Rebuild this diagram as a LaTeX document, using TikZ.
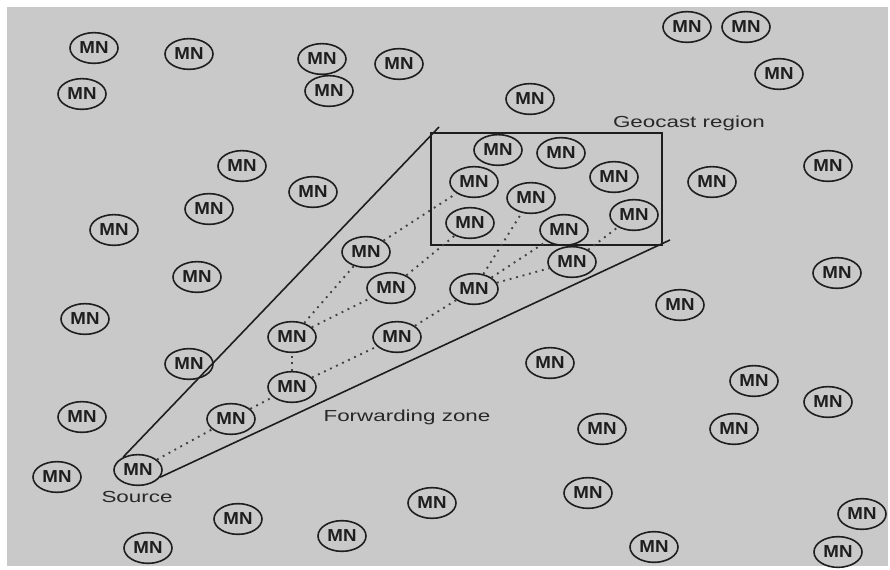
\documentclass[tikz,border=0pt]{standalone}
\usepackage{fontspec}
\setmainfont{Liberation Sans}
\usetikzlibrary{shapes.geometric}
\definecolor{bg}{RGB}{201,201,201}
\definecolor{ink}{RGB}{30,30,30}
\definecolor{lbl}{RGB}{40,40,40}
\newcommand\MNtxt{\scalebox{1.08}[1]{\bfseries MN}}
\newcommand\LBtxt[1]{\scalebox{1.4}[1]{#1}}
\begin{document}
\begin{tikzpicture}[x=0.75pt,y=-0.75pt,
  mn/.style={ellipse, draw=ink, line width=1.2pt, minimum width=36pt, minimum height=23pt, inner sep=0pt, font=\fontsize{13}{13}\selectfont, text=ink},
  lab/.style={font=\fontsize{12}{12}\selectfont, text=lbl, inner sep=0pt},
  hop/.style={draw=ink!85, line width=1.4pt, dash pattern=on 1.4pt off 3.6pt},
  zone/.style={draw=ink, line width=1.2pt}]
\useasboundingbox (0,0) rectangle (890,570);
\fill[white] (0,0) rectangle (890,570);
\fill[bg] (7,7) rectangle (888,566);
% geocast region box
\draw[zone] (431,133) rectangle (662,245);
% nodes
\node[mn] (n1) at (94,48) {\MNtxt};
\node[mn] (n2) at (189,54) {\MNtxt};
\node[mn] (n3) at (322,59) {\MNtxt};
\node[mn] (n4) at (399,64) {\MNtxt};
\node[mn] (n5) at (82,94) {\MNtxt};
\node[mn] (n6) at (329,91) {\MNtxt};
\node[mn] (n7) at (687,27) {\MNtxt};
\node[mn] (n8) at (746,27) {\MNtxt};
\node[mn] (n9) at (779,74) {\MNtxt};
\node[mn] (n10) at (530,99) {\MNtxt};
\node[mn] (n11) at (242,166) {\MNtxt};
\node[mn] (n12) at (313,192) {\MNtxt};
\node[mn] (n13) at (209,209) {\MNtxt};
\node[mn] (n14) at (114,230) {\MNtxt};
\node[mn] (n15) at (197,277) {\MNtxt};
\node[mn] (n16) at (85,319) {\MNtxt};
\node[mn] (n17) at (189,364) {\MNtxt};
\node[mn] (n18) at (712,182) {\MNtxt};
\node[mn] (n19) at (828,166) {\MNtxt};
\node[mn] (n20) at (837,273) {\MNtxt};
\node[mn] (n21) at (680,305) {\MNtxt};
\node[mn] (g1) at (498,150) {\MNtxt};
\node[mn] (g2) at (561,153) {\MNtxt};
\node[mn] (g3) at (474,182) {\MNtxt};
\node[mn] (g4) at (614,177) {\MNtxt};
\node[mn] (g5) at (531,198) {\MNtxt};
\node[mn] (g6) at (470,223) {\MNtxt};
\node[mn] (g7) at (634,215) {\MNtxt};
\node[mn] (g8) at (564,230) {\MNtxt};
\node[mn] (f1) at (366,252) {\MNtxt};
\node[mn] (f2) at (572,262) {\MNtxt};
\node[mn] (f3) at (391,288) {\MNtxt};
\node[mn] (f4) at (474,289) {\MNtxt};
\node[mn] (f5) at (292,337) {\MNtxt};
\node[mn] (f6) at (397,337) {\MNtxt};
\node[mn] (f7) at (292,387) {\MNtxt};
\node[mn] (f8) at (231,419) {\MNtxt};
\node[mn] (src) at (138,470) {\MNtxt};
\node[mn] (n22) at (550,363) {\MNtxt};
\node[mn] (n23) at (754,381) {\MNtxt};
\node[mn] (n24) at (828,402) {\MNtxt};
\node[mn] (n25) at (82,417) {\MNtxt};
\node[mn] (n26) at (602,429) {\MNtxt};
\node[mn] (n27) at (734,429) {\MNtxt};
\node[mn] (n28) at (57,477) {\MNtxt};
\node[mn] (n29) at (432,503) {\MNtxt};
\node[mn] (n30) at (588,493) {\MNtxt};
\node[mn] (n31) at (238,519) {\MNtxt};
\node[mn] (n32) at (342,536) {\MNtxt};
\node[mn] (n33) at (862,514) {\MNtxt};
\node[mn] (n34) at (148,548) {\MNtxt};
\node[mn] (n35) at (654,547) {\MNtxt};
\node[mn] (n36) at (838,552) {\MNtxt};
% labels
\node[lab] (lgeo) at (689,123) {\LBtxt{Geocast region}};
\node[lab] (lfwd) at (407,417) {\LBtxt{Forwarding zone}};
\node[lab] (lsrc) at (137,497) {\LBtxt{Source}};
% forwarding zone
\coordinate (tipA) at (439,127);
\coordinate (tipB) at (670,240);
\draw[zone] (src.139) -- (tipA);
\draw[zone] (src.-18) -- (tipB);
% forwarding hops
\draw[hop] (src) -- (f8);
\draw[hop] (f8) -- (f7);
\draw[hop] (f7) -- (f5);
\draw[hop] (f7) -- (f6);
\draw[hop] (f5) -- (f1);
\draw[hop] (f5) -- (f3);
\draw[hop] (f1) -- (g3);
\draw[hop] (f3) -- (g6);
\draw[hop] (f6) -- (f4);
\draw[hop] (f4) -- (g5);
\draw[hop] (f4) -- (g8);
\draw[hop] (f4) -- (f2);
\draw[hop] (f2) -- (g7);
\end{tikzpicture}
\end{document}
